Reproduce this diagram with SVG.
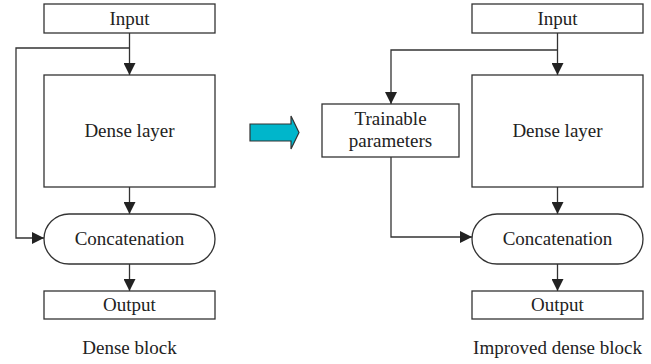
<svg xmlns="http://www.w3.org/2000/svg" width="651" height="364" viewBox="0 0 651 364">
<style>
.box{fill:#fff;stroke:#333;stroke-width:1.3}
.ln{fill:none;stroke:#333;stroke-width:1.3}
text{font-family:"Liberation Serif","Times New Roman",serif;font-size:19px;fill:#222;text-anchor:middle;dominant-baseline:central}
</style>
<defs>
<marker id="ah" viewBox="0 0 12 12" refX="12" refY="6" markerWidth="12" markerHeight="12" markerUnits="userSpaceOnUse" orient="auto">
<path d="M0,0 L12,6 L0,12 Z" fill="#222"/>
</marker>
</defs>
<rect width="651" height="364" fill="#fff"/>
<g id="connectors">
<path class="ln" d="M129.5,33 V75" marker-end="url(#ah)"/>
<path class="ln" d="M129.5,48 H16 V238 H44" marker-end="url(#ah)"/>
<path class="ln" d="M129.5,187 V214" marker-end="url(#ah)"/>
<path class="ln" d="M129.5,264 V291" marker-end="url(#ah)"/>
<path class="ln" d="M557.5,33 V75" marker-end="url(#ah)"/>
<path class="ln" d="M557.5,50 H391 V104" marker-end="url(#ah)"/>
<path class="ln" d="M391,157 V237 H472" marker-end="url(#ah)"/>
<path class="ln" d="M557.5,187 V214" marker-end="url(#ah)"/>
<path class="ln" d="M557.5,264 V291" marker-end="url(#ah)"/>
</g>
<g id="input-left"><rect class="box" x="44" y="4" width="171" height="29"/><text x="129.5" y="18.5">Input</text></g>
<g id="dense-left"><rect class="box" x="44" y="75" width="171" height="112"/><text x="129.5" y="130">Dense layer</text></g>
<g id="concat-left"><rect class="box" x="44" y="214" width="171" height="50" rx="25" ry="25"/><text x="129.5" y="238.5">Concatenation</text></g>
<g id="output-left"><rect class="box" x="44" y="291" width="171" height="28"/><text x="129.5" y="304.5">Output</text></g>
<g id="label-left"><text x="129.5" y="347">Dense block</text></g>
<g id="arrow-big"><path d="M250,124 H291 V116 L299,132.5 L291,149 V141 H250 Z" fill="#00b6cb" stroke="#333" stroke-width="1.2"/></g>
<g id="input-right"><rect class="box" x="472" y="4" width="171" height="29"/><text x="557.5" y="18.5">Input</text></g>
<g id="trainable"><rect class="box" x="322" y="104" width="137" height="53"/><text x="390.5" y="118">Trainable</text><text x="390.5" y="140.5">parameters</text></g>
<g id="dense-right"><rect class="box" x="472" y="75" width="171" height="112"/><text x="557.5" y="130">Dense layer</text></g>
<g id="concat-right"><rect class="box" x="472" y="214" width="171" height="50" rx="25" ry="25"/><text x="557.5" y="238.5">Concatenation</text></g>
<g id="output-right"><rect class="box" x="472" y="291" width="171" height="28"/><text x="557.5" y="304.5">Output</text></g>
<g id="label-right"><text x="557.5" y="347">Improved dense block</text></g>
</svg>
